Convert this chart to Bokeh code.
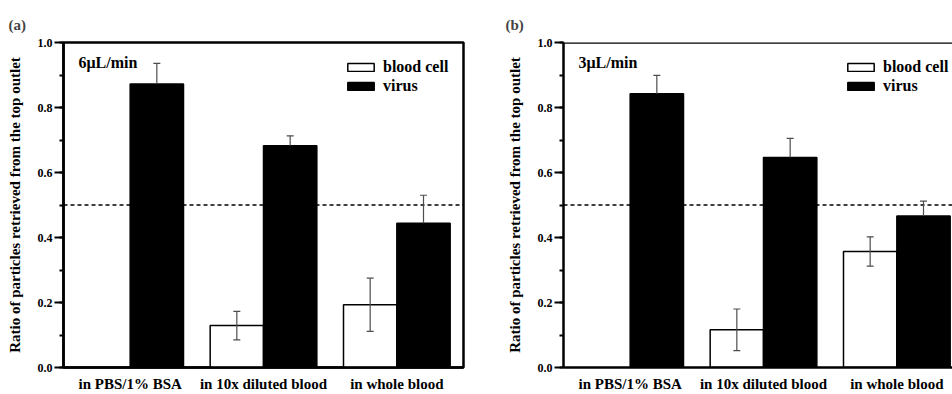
import numpy as np
from bokeh.plotting import figure
from bokeh.layouts import row
from bokeh.models import (Range1d, FixedTicker, SingleIntervalTicker, Span, Whisker,
                          ColumnDataSource, Label, TeeHead, NumeralTickFormatter)
from bokeh.transform import dodge
from bokeh.embed import file_html
from bokeh.resources import INLINE

# ---------------- data ----------------
categories = ["in PBS/1% BSA", "in 10x diluted blood", "in whole blood"]
cat_x = [1, 2, 3]
series_names = ["blood cell", "virus"]

a_blood = [None, 0.129, 0.193]
a_blood_err = [None, 0.044, 0.082]
a_virus = [0.872, 0.682, 0.444]
a_virus_err = [0.064, 0.031, 0.086]

b_blood = [None, 0.116, 0.357]
b_blood_err = [None, 0.064, 0.045]
b_virus = [0.842, 0.646, 0.466]
b_virus_err = [0.057, 0.059, 0.046]

threshold = 0.5
y_ticks_interval = 0.2

FONT = "Liberation Serif"
ERR = "#4d4d4d"


def arr(v):
    return np.array([np.nan if x is None else x for x in v], dtype=float)


def make_panel(tag, rate, blood, blood_err, virus, virus_err, width, left_border,
               right_border, x_end, tag_offset, use_outline):
    p = figure(width=width, height=394, x_range=Range1d(0.5, x_end),
               y_range=Range1d(0, 1.0), output_backend="svg", toolbar_location=None,
               min_border_left=left_border, min_border_right=right_border,
               min_border_top=42, min_border_bottom=25, title=tag)
    p.title.align = "left"
    p.title.offset = tag_offset
    p.title.text_font = FONT
    p.title.text_font_size = "15px"
    p.title.text_font_style = "bold"
    p.title.standoff = 20

    p.xgrid.visible = False
    p.ygrid.visible = False
    p.background_fill_color = "white"
    if use_outline:
        p.outline_line_color = "black"
        p.outline_line_width = 2.5
    else:
        p.outline_line_color = None
        p.add_layout(Span(location=1.0, dimension="width", line_color="black",
                          line_width=2.5))

    bl, be, vi, ve = arr(blood), arr(blood_err), arr(virus), arr(virus_err)
    src = ColumnDataSource(dict(x=cat_x, blood=bl, blood_lo=bl - be, blood_hi=bl + be,
                                virus=vi, virus_hi=vi + ve))

    p.add_layout(Span(location=threshold, dimension="width", line_color="black",
                      line_width=1.5, line_dash="4 3", level="underlay"))

    p.vbar(x=dodge("x", -0.2, range=p.x_range), top="blood", width=0.4, source=src,
           fill_color="white", line_color="black", line_width=1.5,
           legend_label=series_names[0])
    p.vbar(x=dodge("x", 0.2, range=p.x_range), top="virus", width=0.4, source=src,
           fill_color="black", line_color="black", line_width=1.5,
           legend_label=series_names[1])

    p.add_layout(Whisker(base=dodge("x", -0.2, range=p.x_range), upper="blood_hi",
                         lower="blood_lo", source=src, line_color=ERR, line_width=1.2,
                         level="annotation",
                         upper_head=TeeHead(size=7, line_color=ERR, line_width=1.2),
                         lower_head=TeeHead(size=7, line_color=ERR, line_width=1.2)))
    p.add_layout(Whisker(base=dodge("x", 0.2, range=p.x_range), upper="virus_hi",
                         lower="virus", source=src, line_color=ERR, line_width=1.2,
                         level="annotation",
                         upper_head=TeeHead(size=7, line_color=ERR, line_width=1.2),
                         lower_head=None))

    p.add_layout(Label(x=0.6125, y=0.939, text=rate, text_font=FONT,
                       text_font_size="16px", text_font_style="bold",
                       text_baseline="middle", text_color="black"))

    # legend
    lg = p.legend[0]
    lg.location = (281, 272)
    lg.glyph_width = 33
    lg.glyph_height = 10
    lg.label_height = 16
    lg.spacing = 1
    lg.padding = 4
    lg.margin = 0
    lg.label_standoff = 6
    lg.label_text_font = FONT
    lg.label_text_font_size = "16px"
    lg.label_text_font_style = "bold"
    lg.label_text_color = "black"
    lg.border_line_color = None
    lg.background_fill_alpha = 0

    # x axis
    xa = p.xaxis[0]
    xa.ticker = FixedTicker(ticks=cat_x)
    xa.major_label_overrides = {x: c for x, c in zip(cat_x, categories)}
    xa.major_tick_line_color = None
    xa.minor_tick_line_color = None
    xa.major_tick_out = 0
    xa.major_tick_in = 0
    xa.minor_tick_out = 0
    xa.minor_tick_in = 0
    xa.axis_line_width = 2.5
    xa.major_label_standoff = 8
    xa.major_label_text_font = FONT
    xa.major_label_text_font_size = "15px"
    xa.major_label_text_font_style = "bold"
    xa.major_label_text_color = "black"

    # y axis
    ya = p.yaxis[0]
    ya.ticker = SingleIntervalTicker(interval=y_ticks_interval, num_minor_ticks=2)
    ya.formatter = NumeralTickFormatter(format="0.0")
    ya.axis_line_width = 2.5
    ya.major_tick_out = 9
    ya.major_tick_in = 0
    ya.major_tick_line_width = 2
    ya.minor_tick_out = 4
    ya.minor_tick_in = 0
    ya.minor_tick_line_width = 2
    ya.major_label_standoff = 2
    ya.major_label_text_font = FONT
    ya.major_label_text_font_size = "12px"
    ya.major_label_text_font_style = "bold"
    ya.major_label_text_color = "black"
    ya.axis_label = "Ratio of particles retrieved from the top outlet"
    ya.axis_label_text_font = FONT
    ya.axis_label_text_font_size = "15px"
    ya.axis_label_text_font_style = "bold"
    ya.axis_label_text_color = "black"
    ya.axis_label_standoff = 12
    return p


p1 = make_panel("(a)", "6μL/min", a_blood, a_blood_err, a_virus, a_virus_err,
                width=470, left_border=63, right_border=7, x_end=3.5,
                tag_offset=-55, use_outline=True)
p2 = make_panel("(b)", "3μL/min", b_blood, b_blood_err, b_virus, b_virus_err,
                width=482, left_border=93, right_border=0, x_end=3.4175,
                tag_offset=-58, use_outline=False)

layout = row(p1, p2)
open("out.html", "w").write(file_html(layout, INLINE))
